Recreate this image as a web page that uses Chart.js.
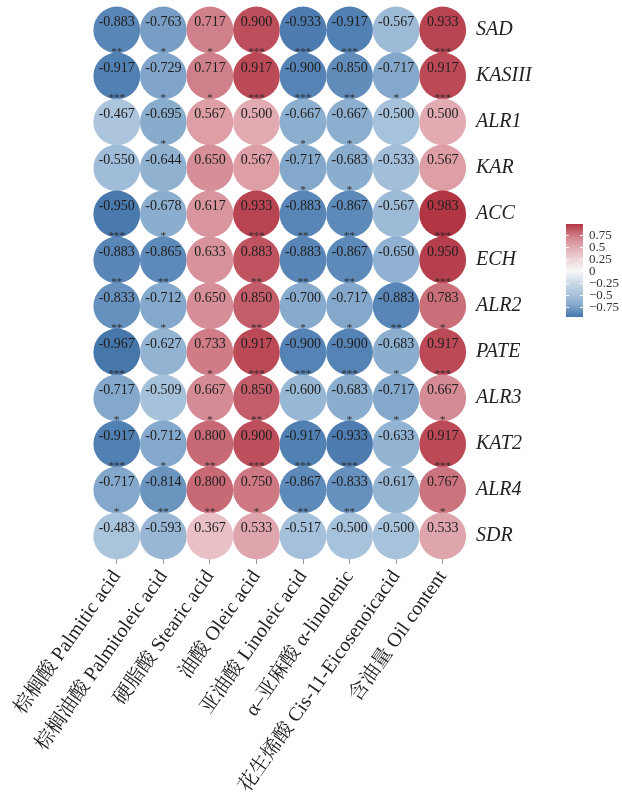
<!DOCTYPE html>
<html>
<head>
<meta charset="utf-8">
<script src="https://cdn.jsdelivr.net/npm/chart.js@4.4.1/dist/chart.umd.min.js"></script>
<style>
    html, body { margin: 0; padding: 0; background: #ffffff; }
    #wrap { width: 622px; height: 808px; position: relative; }
</style>
</head>
<body>
<div id="wrap"><canvas id="corrChart"></canvas></div>
<script>
/*
    Gene / fatty-acid correlation matrix drawn as a bubble grid.
*/

//Genes (rows, top to bottom)
const genes = ["SAD", "KASIII", "ALR1", "KAR", "ACC", "ECH", "ALR2", "PATE", "ALR3", "KAT2", "ALR4", "SDR"];

//Traits (columns, left to right)
const traits = [
    "棕榈酸 Palmitic acid",
    "棕榈油酸 Palmitoleic acid",
    "硬脂酸 Stearic acid",
    "油酸 Oleic acid",
    "亚油酸 Linoleic acid",
    "α–亚麻酸 α-linolenic",
    "花生烯酸 Cis-11-Eicosenoicacid",
    "含油量 Oil content"
];

//Correlation coefficients, one row per gene
const corr = [
    [-0.883, -0.763, 0.717, 0.900, -0.933, -0.917, -0.567, 0.933],
    [-0.917, -0.729, 0.717, 0.917, -0.900, -0.850, -0.717, 0.917],
    [-0.467, -0.695, 0.567, 0.500, -0.667, -0.667, -0.500, 0.500],
    [-0.550, -0.644, 0.650, 0.567, -0.717, -0.683, -0.533, 0.567],
    [-0.950, -0.678, 0.617, 0.933, -0.883, -0.867, -0.567, 0.983],
    [-0.883, -0.865, 0.633, 0.883, -0.883, -0.867, -0.650, 0.950],
    [-0.833, -0.712, 0.650, 0.850, -0.700, -0.717, -0.883, 0.783],
    [-0.967, -0.627, 0.733, 0.917, -0.900, -0.900, -0.683, 0.917],
    [-0.717, -0.509, 0.667, 0.850, -0.600, -0.683, -0.717, 0.667],
    [-0.917, -0.712, 0.800, 0.900, -0.917, -0.933, -0.633, 0.917],
    [-0.717, -0.814, 0.800, 0.750, -0.867, -0.833, -0.617, 0.767],
    [-0.483, -0.593, 0.367, 0.533, -0.517, -0.500, -0.500, 0.533]
];

//Significance marks, same layout as corr
const stars = [
    ["**", "*", "*", "***", "***", "***", "", "***"],
    ["***", "*", "*", "***", "***", "**", "*", "***"],
    ["", "*", "", "", "*", "*", "", ""],
    ["", "", "", "", "*", "*", "", ""],
    ["***", "*", "", "***", "**", "**", "", "***"],
    ["**", "**", "", "**", "**", "**", "", "***"],
    ["**", "*", "", "**", "*", "*", "**", "*"],
    ["***", "", "*", "***", "***", "***", "*", "***"],
    ["*", "", "*", "**", "", "*", "*", "*"],
    ["***", "*", "**", "***", "***", "***", "", "***"],
    ["*", "**", "**", "*", "**", "**", "", "*"],
    ["", "", "", "", "", "", "", ""]
];

//Colour bar tick labels
const legendTicks = [0.75, 0.5, 0.25, 0, -0.25, -0.5, -0.75];

//Blue - white - red palette
const colorStops = [
    [-1.0, [63, 111, 165]],
    [-0.9, [85, 131, 181]],
    [-0.7, [136, 171, 205]],
    [-0.5, [167, 194, 219]],
    [-0.25, [204, 218, 232]],
    [0.0, [247, 247, 247]],
    [0.25, [238, 211, 214]],
    [0.5, [226, 171, 178]],
    [0.7, [210, 133, 143]],
    [0.85, [195, 93, 105]],
    [1.0, [176, 48, 63]]
];

const serif = "'Liberation Serif', 'Times New Roman', 'Noto Serif CJK SC', 'Noto Sans CJK SC', serif";

function colorFor(v){
    if(v <= colorStops[0][0]) return `rgb(${colorStops[0][1].join(",")})`;
    for(let i = 1; i < colorStops.length; i++){
        let [v1, c1] = colorStops[i];
        if(v <= v1){
            let [v0, c0] = colorStops[i - 1],
                t = (v - v0) / (v1 - v0),
                c = c0.map((ch, k) => Math.round(ch + (c1[k] - ch) * t));
            return `rgb(${c.join(",")})`;
        }
    }
    return `rgb(${colorStops[colorStops.length - 1][1].join(",")})`;
}

//Flatten the matrix into bubble points
let points = [];
genes.forEach((g, i) => {
    traits.forEach((t, j) => {
        points.push({x: t, y: g, v: corr[i][j], s: stars[i][j]});
    });
});

let allVals = corr.flat(),
    vMin = Math.min(...allVals),
    vMax = Math.max(...allVals);

//Writes the coefficient and stars on each circle
const cellText = {
    id: "cellText",
    afterDatasetsDraw(chart){
        let ctx = chart.ctx,
            meta = chart.getDatasetMeta(0);
        ctx.save();
        ctx.textAlign = "center";
        meta.data.forEach((el, i) => {
            let p = points[i];
            ctx.fillStyle = "#1e1e1e";
            ctx.font = `14px ${serif}`;
            ctx.textBaseline = "middle";
            ctx.fillText(p.v.toFixed(3), el.x, el.y - 8);
            if(p.s){
                ctx.fillStyle = "#2a2a2a";
                ctx.font = `11px ${serif}`;
                ctx.textBaseline = "alphabetic";
                ctx.fillText(p.s, el.x, el.y + 25);
            }
        });
        ctx.restore();
    }
};

//Colour bar on the right
const colorBar = {
    id: "colorBar",
    afterDraw(chart){
        let ctx = chart.ctx,
            x = 566, w = 17, top = 224, bottom = 317,
            pix = v => top + (vMax - v) / (vMax - vMin) * (bottom - top);

        let grad = ctx.createLinearGradient(0, top, 0, bottom);
        colorStops.forEach(([v]) => {
            if(v >= vMin && v <= vMax){
                grad.addColorStop((pix(v) - top) / (bottom - top), colorFor(v));
            }
        });
        grad.addColorStop(0, colorFor(vMax));
        grad.addColorStop(1, colorFor(vMin));

        ctx.save();
        ctx.fillStyle = grad;
        ctx.fillRect(x, top, w, bottom - top);

        ctx.strokeStyle = "#ffffff";
        ctx.lineWidth = 1;
        ctx.fillStyle = "#333333";
        ctx.font = `13px ${serif}`;
        ctx.textAlign = "left";
        ctx.textBaseline = "middle";
        legendTicks.forEach(v => {
            let y = Math.round(pix(v)) + 0.5;
            ctx.beginPath();
            ctx.moveTo(x, y); ctx.lineTo(x + 3, y);
            ctx.moveTo(x + w - 3, y); ctx.lineTo(x + w, y);
            ctx.stroke();
            let lbl = v < 0 ? "\u2212" + Math.abs(v) : String(v);
            ctx.fillText(lbl, x + w + 6, y);
        });
        ctx.restore();
    }
};

let corrChart = new Chart("corrChart", {
    type: "bubble",
    data: {
        datasets: [{
            data: points,
            radius: 23.4,
            borderWidth: 0,
            hoverBorderWidth: 0,
            hoverRadius: 0,
            backgroundColor: c => colorFor(c.raw.v),
            hoverBackgroundColor: c => colorFor(c.raw.v),
        }],
    },
    options: {
        responsive: true,
        maintainAspectRatio: false,
        animation: false,
        events: [],
        layout: {
            autoPadding: false,
            padding: {left: 93.5, top: 7, right: 0, bottom: 0},
        },
        plugins: {
            legend: {display: false},
            tooltip: {enabled: false},
        },
        scales: {
            x: {
                type: "category",
                labels: traits,
                offset: true,
                position: "bottom",
                border: {display: false},
                grid: {
                    offset: false,
                    drawOnChartArea: false,
                    drawTicks: true,
                    tickLength: 5,
                    color: "#9a9a9a",
                },
                ticks: {
                    autoSkip: false,
                    minRotation: 55,
                    maxRotation: 55,
                    padding: 2,
                    color: "#222222",
                    font: {family: serif, size: 20},
                },
                afterFit: s => {
                    s.height = 249;
                    s.paddingLeft = 0;
                    s.paddingRight = 0;
                },
            },
            y: {
                type: "category",
                labels: genes,
                offset: true,
                position: "right",
                border: {display: false},
                grid: {display: false, drawTicks: false},
                ticks: {
                    padding: 10,
                    color: "#222222",
                    font: {family: serif, size: 20, style: "italic"},
                },
                afterFit: s => {
                    s.width = 156;
                    s.paddingTop = 0;
                    s.paddingBottom = 0;
                },
            },
        },
    },
    plugins: [cellText, colorBar],
});
</script>
</body>
</html>
